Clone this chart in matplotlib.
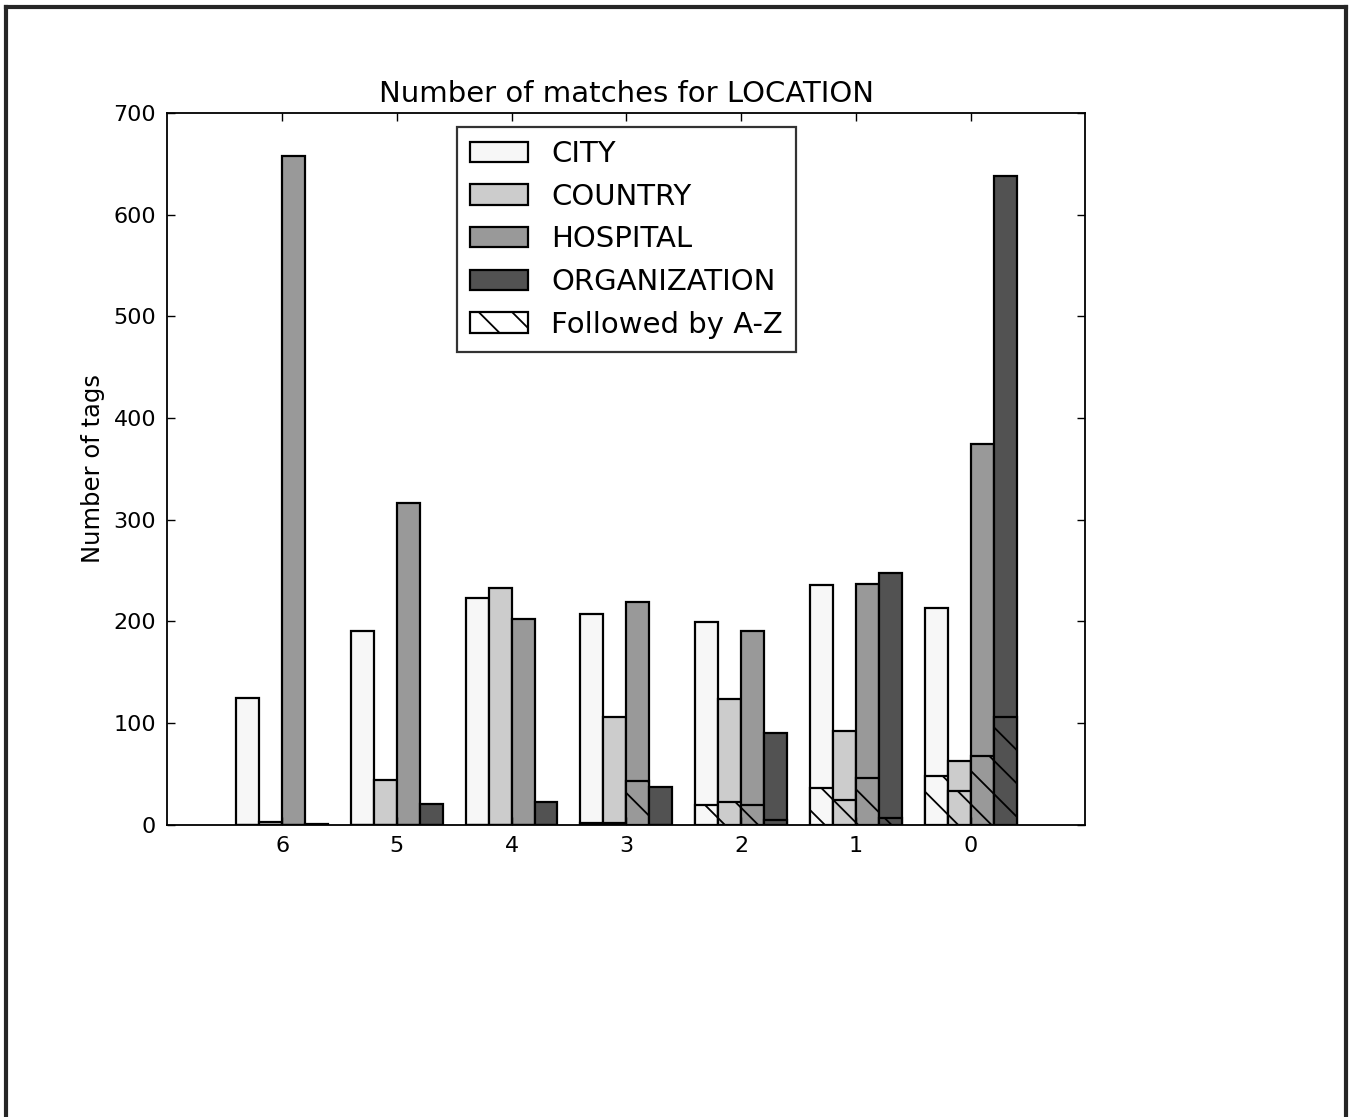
import matplotlib
matplotlib.use('Agg')
import matplotlib.pyplot as plt
from matplotlib.patches import Patch
from matplotlib.lines import Line2D
import numpy as np

# matches per group, left to right
groups = ['6', '5', '4', '3', '2', '1', '0']
categories = ['CITY', 'COUNTRY', 'HOSPITAL', 'ORGANIZATION']
colors = ['0.97', '0.80', '0.60', '0.32']

city = [125, 191, 223, 207, 199, 236, 213]
country = [3, 44, 233, 106, 124, 92, 63]
hospital = [658, 316, 202, 219, 191, 237, 374]
organization = [1, 21, 23, 37, 90, 248, 638]

# part of each bar followed by A-Z
city_az = [0, 0, 0, 2, 20, 36, 48]
country_az = [0, 0, 0, 2, 23, 24, 33]
hospital_az = [0, 0, 0, 43, 20, 46, 68]
organization_az = [0, 0, 0, 0, 5, 7, 106]

totals = [city, country, hospital, organization]
followed = [city_az, country_az, hospital_az, organization_az]

plt.rcParams['hatch.linewidth'] = 1.3

fig = plt.figure(figsize=(13.55, 11.17), dpi=100)
ax = fig.add_axes([0.1235, 0.2615, 0.6775, 0.6375])

x = np.arange(len(groups))
width = 0.2
for i in range(len(categories)):
    pos = x - 0.4 + i * width
    ax.bar(pos, totals[i], width, align='edge', color=colors[i],
           edgecolor='black', linewidth=1.6)
    ax.bar(pos, followed[i], width, align='edge', color=colors[i],
           edgecolor='black', linewidth=1.6, hatch='\\')

ax.set_xlim(-1, 7)
ax.set_ylim(0, 700)
ax.set_xticks(x)
ax.set_xticklabels(groups)
ax.set_yticks(range(0, 701, 100))
ax.tick_params(direction='in', top=True, right=True, length=6, width=1,
               labelsize=16, pad=8)
for s in ax.spines.values():
    s.set_linewidth(1.3)

ax.set_title('Number of matches for LOCATION', fontsize=21, pad=8)
ax.set_ylabel('Number of tags', fontsize=17.5, labelpad=6)

handles = [Patch(facecolor=c, edgecolor='black', linewidth=1.6) for c in colors]
handles.append(Patch(facecolor='white', edgecolor='black', linewidth=1.6, hatch='\\'))
leg = ax.legend(handles, categories + ['Followed by A-Z'], loc='upper center',
                fontsize=21, fancybox=False, edgecolor='black',
                borderpad=0.45, handlelength=2.0, labelspacing=0.5,
                borderaxespad=0, bbox_to_anchor=(0.5, 0.98))
leg.get_frame().set_linewidth(1.6)

# outer frame around the figure
for xs, ys in [([0.0045, 0.0045], [0, 0.9935]),
               ([0.0045, 0.9935], [0.9935, 0.9935]),
               ([0.9935, 0.9935], [0, 0.9935])]:
    fig.add_artist(Line2D(xs, ys, transform=fig.transFigure, color='0.15',
                          linewidth=3))

fig.savefig('out.png')
